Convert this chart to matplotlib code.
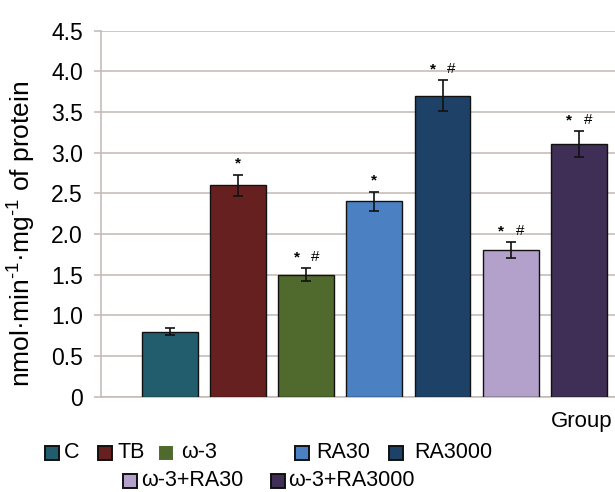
import numpy as np
import matplotlib
matplotlib.use('Agg')
import matplotlib.pyplot as plt
from matplotlib.patches import Rectangle

groups = ['C', 'TB', 'ω-3', 'RA30', 'RA3000', 'ω-3+RA30', 'ω-3+RA3000']
means = [0.80, 2.60, 1.50, 2.40, 3.70, 1.80, 3.10]
errors = [0.04, 0.13, 0.08, 0.12, 0.19, 0.10, 0.16]
marks = ['', '*', '* #', '*', '* #', '* #', '* #']
colors = ['#215d6c', '#66201f', '#4f6a2c', '#4b80c2', '#1e4267', '#b3a1cb', '#3f2e55']
yticks = [0, 0.5, 1.0, 1.5, 2.0, 2.5, 3.0, 3.5, 4.0, 4.5]
ytick_labels = ['0', '0.5', '1.0', '1.5', '2.0', '2.5', '3.0', '3.5', '4.0', '4.5']

plt.rcParams['font.family'] = ['Liberation Sans', 'DejaVu Sans']
plt.rcParams['mathtext.fontset'] = 'custom'
plt.rcParams['mathtext.rm'] = 'Liberation Sans'

W, H = 615, 492
fig = plt.figure(figsize=(W / 100, H / 100), dpi=100)
ax = fig.add_axes([101 / W, 1 - 396.7 / H, 1 - 101 / W, (396.7 - 30.5) / H])

grid_col = '#c4b8b4'
x = np.arange(1, len(groups) + 1)
ax.bar(x, means, width=0.82, color=colors, edgecolor='#111111', linewidth=1.0, zorder=3)
ax.errorbar(x, means, yerr=errors, fmt='none', ecolor='#111111', elinewidth=1.2,
            capsize=3.5, capthick=1.2, zorder=4)

for xi, m, e, lab in zip(x, means, errors, marks):
    if lab == '*':
        ax.annotate('*', (xi, m + e), xytext=(0, 5), textcoords='offset points',
                    ha='center', va='baseline', fontsize=11, fontweight='bold')
    elif lab:
        ax.annotate('*', (xi, m + e), xytext=(-7, 5), textcoords='offset points',
                    ha='center', va='baseline', fontsize=11, fontweight='bold')
        ax.annotate('#', (xi, m + e), xytext=(6.5, 5), textcoords='offset points',
                    ha='center', va='baseline', fontsize=11)

ax.set_xlim(-0.01, 7.53)
ax.set_ylim(0, 4.5)
ax.set_yticks(yticks)
ax.set_yticklabels(ytick_labels, fontsize=16.5)
ax.set_xticks([])
ax.yaxis.grid(True, color=grid_col, linewidth=1.1, zorder=0)
ax.tick_params(axis='y', length=5, width=1.1, color=grid_col, pad=8)
for s in ['top', 'right']:
    ax.spines[s].set_visible(False)
ax.spines['left'].set_color(grid_col)
ax.spines['bottom'].set_color(grid_col)
ax.spines['left'].set_linewidth(1.1)
ax.spines['bottom'].set_linewidth(1.1)

fig.text(21 / W, 1 - 234 / H, r'nmol·min$^{\text{-1}}$·mg$^{\text{-1}}$ of protein',
         rotation=90, ha='center', va='center', fontsize=19)
fig.text(612 / W, 1 - 421 / H, 'Group', ha='right', va='center', fontsize=16)

# legend, hand placed: (square left px, text left px, row centre px)
legend_pos = [(45, 64, 453), (98, 118, 453), (160, 181, 453), (295, 316, 453),
              (389, 414, 453), (123, 141, 481), (271, 288, 481)]
for (sx, tx, cy), name, col in zip(legend_pos, groups, colors):
    edge = col if name == 'ω-3' else '#111111'
    size = 12 if name == 'ω-3' else 14
    fig.add_artist(Rectangle((sx / W, 1 - (cy + size / 2) / H), size / W, size / H,
                             facecolor=col, edgecolor=edge, linewidth=1.4,
                             transform=fig.transFigure))
    fig.text(tx / W, 1 - cy / H, name, ha='left', va='center', fontsize=15.5)

fig.savefig('out.png', dpi=100)
